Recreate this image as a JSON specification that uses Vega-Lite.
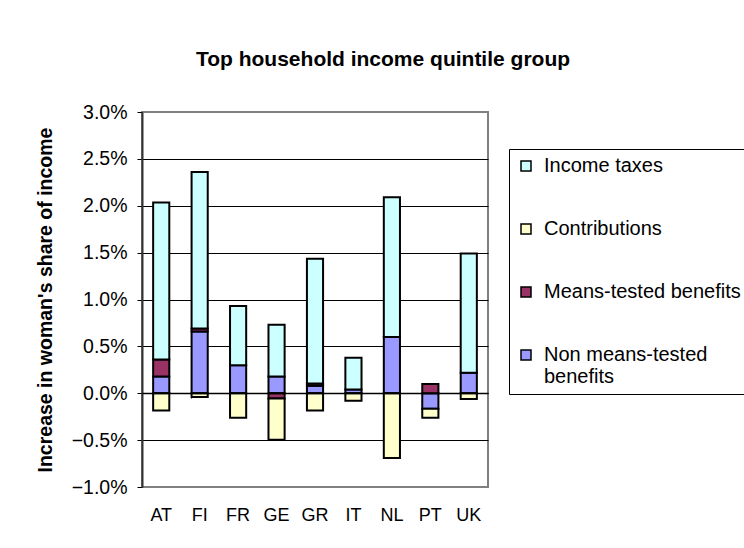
{
  "$schema": "https://vega.github.io/schema/vega-lite/v6.json",
  "width": 346,
  "height": 375,
  "autosize": "none",
  "padding": {"left": 142, "top": 112, "right": 256, "bottom": 61},
  "background": "white",
  "config": {
    "font": "Liberation Sans",
    "view": {"stroke": "#808080", "strokeWidth": 2}
  },
  "title": {
    "text": "Top household income quintile group",
    "font": "Liberation Sans",
    "fontSize": 21,
    "fontWeight": "bold",
    "color": "black",
    "anchor": "middle",
    "frame": "group",
    "dx": 68,
    "offset": 32
  },
  "data": {
    "values": [
      {"country": "AT", "component": "Non means-tested benefits", "value": 0.0018},
      {"country": "AT", "component": "Means-tested benefits", "value": 0.0018},
      {"country": "AT", "component": "Income taxes", "value": 0.01675},
      {"country": "AT", "component": "Contributions", "value": -0.00185},
      {"country": "FI", "component": "Non means-tested benefits", "value": 0.0066},
      {"country": "FI", "component": "Means-tested benefits", "value": 0.0003},
      {"country": "FI", "component": "Income taxes", "value": 0.0167},
      {"country": "FI", "component": "Contributions", "value": -0.0004},
      {"country": "FR", "component": "Non means-tested benefits", "value": 0.003},
      {"country": "FR", "component": "Income taxes", "value": 0.0063},
      {"country": "FR", "component": "Contributions", "value": -0.0026},
      {"country": "GE", "component": "Non means-tested benefits", "value": 0.0018},
      {"country": "GE", "component": "Means-tested benefits", "value": -0.00056},
      {"country": "GE", "component": "Income taxes", "value": 0.0055},
      {"country": "GE", "component": "Contributions", "value": -0.0044},
      {"country": "GR", "component": "Non means-tested benefits", "value": 0.0008},
      {"country": "GR", "component": "Means-tested benefits", "value": 0.00025},
      {"country": "GR", "component": "Income taxes", "value": 0.0133},
      {"country": "GR", "component": "Contributions", "value": -0.00185},
      {"country": "IT", "component": "Non means-tested benefits", "value": 0.0004},
      {"country": "IT", "component": "Income taxes", "value": 0.0034},
      {"country": "IT", "component": "Contributions", "value": -0.0008},
      {"country": "NL", "component": "Non means-tested benefits", "value": 0.006},
      {"country": "NL", "component": "Income taxes", "value": 0.0149},
      {"country": "NL", "component": "Contributions", "value": -0.0069},
      {"country": "PT", "component": "Non means-tested benefits", "value": -0.00165},
      {"country": "PT", "component": "Means-tested benefits", "value": 0.001},
      {"country": "PT", "component": "Contributions", "value": -0.00095},
      {"country": "UK", "component": "Non means-tested benefits", "value": 0.0022},
      {"country": "UK", "component": "Income taxes", "value": 0.0127},
      {"country": "UK", "component": "Contributions", "value": -0.0006}
    ]
  },
  "transform": [
    {"calculate": "indexof(['Non means-tested benefits','Means-tested benefits','Income taxes','Contributions'], datum.component)", "as": "stackorder"}
  ],
  "encoding": {
    "x": {
      "field": "country",
      "type": "nominal",
      "sort": ["AT", "FI", "FR", "GE", "GR", "IT", "NL", "PT", "UK"],
      "scale": {"paddingInner": 0.58, "paddingOuter": 0.29}
    },
    "y": {
      "field": "value",
      "type": "quantitative",
      "stack": "zero",
      "scale": {"domain": [-0.01, 0.03], "nice": false, "zero": false}
    }
  },
  "layer": [
    {
      "mark": {"type": "bar", "stroke": "black", "strokeWidth": 2},
      "encoding": {
        "x": {
          "field": "country",
          "type": "nominal",
          "sort": ["AT", "FI", "FR", "GE", "GR", "IT", "NL", "PT", "UK"],
          "axis": {
            "title": null,
            "labelAngle": 0,
            "ticks": false,
            "domain": false,
            "labelFont": "Liberation Sans",
            "labelFontSize": 18,
            "labelColor": "black",
            "labelPadding": 19
          }
        },
        "y": {
          "field": "value",
          "type": "quantitative",
          "stack": "zero",
          "axis": {
            "title": "Increase in woman's share of income",
            "titleFont": "Liberation Sans",
            "titleFontSize": 19.5,
            "titleFontWeight": "bold",
            "titleColor": "black",
            "titlePadding": 16,
            "values": [-0.01, -0.005, 0, 0.005, 0.01, 0.015, 0.02, 0.025, 0.03],
            "format": ".1%",
            "labelFont": "Liberation Sans",
            "labelFontSize": 19.5,
            "labelColor": "black",
            "labelPadding": 10,
            "tickSize": 5,
            "tickColor": "black",
            "domainColor": "#333333",
            "domainWidth": 2,
            "grid": true,
            "gridColor": {"condition": {"test": "datum.value >= 0.029 || datum.value <= -0.0099", "value": "#808080"}, "value": "black"},
            "gridWidth": 1
          }
        },
        "color": {
          "field": "component",
          "type": "nominal",
          "scale": {
            "domain": ["Income taxes", "Contributions", "Means-tested benefits", "Non means-tested benefits"],
            "range": ["#CCFFFF", "#FFFFCC", "#993366", "#9999FF"]
          },
          "legend": {
            "title": null,
            "orient": "none",
            "legendX": 367,
            "legendY": 37,
            "strokeColor": "black",
            "fillColor": "white",
            "padding": 7,
            "symbolType": "square",
            "symbolSize": 100,
            "symbolStrokeColor": "black",
            "symbolStrokeWidth": 1.5,
            "labelFont": "Liberation Sans",
            "labelFontSize": 20,
            "labelColor": "black",
            "labelLimit": 300,
            "labelOffset": 8,
            "rowPadding": 43,
            "labelExpr": "datum.label == 'Non means-tested benefits' ? ['Non means-tested', 'benefits'] : datum.label"
          }
        },
        "order": {"field": "stackorder", "type": "quantitative"}
      }
    },
    {
      "mark": {"type": "bar", "opacity": 0},
      "encoding": {
        "x": {
          "field": "country",
          "type": "nominal",
          "sort": ["AT", "FI", "FR", "GE", "GR", "IT", "NL", "PT", "UK"],
          "axis": {
            "orient": "bottom",
            "offset": -94,
            "title": null,
            "labels": false,
            "bandPosition": 0,
            "ticks": true,
            "tickSize": 5,
            "tickColor": "black",
            "domain": true,
            "domainColor": "black",
            "domainWidth": 1.5,
            "zindex": 2
          }
        },
        "y": {"field": "value", "type": "quantitative", "stack": "zero"},
        "order": {"field": "stackorder", "type": "quantitative"}
      }
    }
  ],
  "resolve": {"axis": {"x": "independent"}}
}
